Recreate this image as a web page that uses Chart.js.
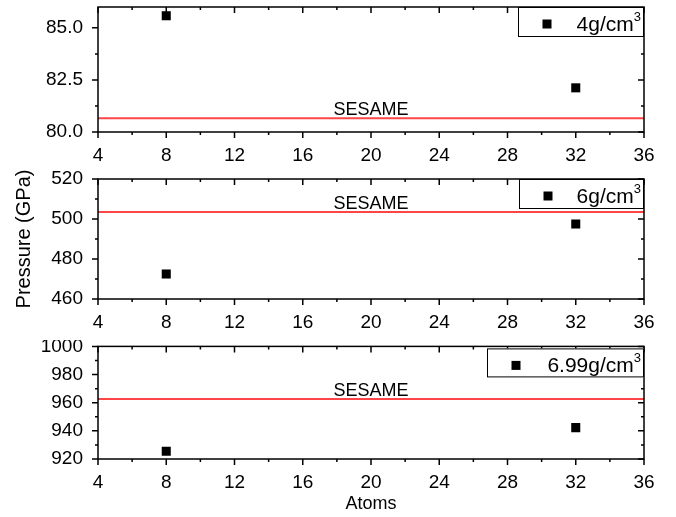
<!DOCTYPE html>
<html>
<head>
<meta charset="utf-8">
<script src="https://cdn.jsdelivr.net/npm/chart.js@4"></script>
<style>
  body { margin: 0; background: #fff; }
  canvas { position: absolute; left: 0; }
</style>
</head>
<body>
<canvas id="c1" width="676" height="170" style="top:0"></canvas>
<canvas id="c2" width="676" height="170" style="top:170px"></canvas>
<canvas id="c3" width="676" height="177" style="top:340px"></canvas>
<script>
// data
const atoms = [8, 32];
const pressure4 = [85.58, 82.12];
const pressure6 = [472.5, 497.5];
const pressure699 = [925.5, 942.3];
const sesame = [80.66, 503.5, 962.7];
const densityLabels = ['4g/cm', '6g/cm', '6.99g/cm'];

// axes
const xTicks = [4, 8, 12, 16, 20, 24, 28, 32, 36];
const yTicks1 = [80, 82.5, 85];
const yTicks2 = [460, 480, 500, 520];
const yTicks3 = [920, 940, 960, 980, 1000];
const yRange1 = [80, 86];
const yRange2 = [460, 520];
const yRange3 = [920, 1000];

const FONT = 'Liberation Sans, Arial, sans-serif';
const tickFont = { family: FONT, size: 19 };

function midpoints(arr) {
  const out = [];
  for (let i = 1; i < arr.length; i++) out.push((arr[i - 1] + arr[i]) / 2);
  return out;
}

// frame, mirrored ticks, SESAME label and boxed legend
const framePlugin = {
  id: 'frame',
  afterDatasetsDraw(chart, args, opts) {
    const { ctx, chartArea: a, scales: { x, y } } = chart;
    ctx.save();
    ctx.strokeStyle = '#000';
    ctx.lineWidth = 1.5;
    ctx.strokeRect(a.left, a.top, a.right - a.left, a.bottom - a.top);

    ctx.beginPath();
    const tickX = (v, len) => {
      const px = x.getPixelForValue(v);
      ctx.moveTo(px, a.bottom); ctx.lineTo(px, a.bottom + len);
      ctx.moveTo(px, a.top); ctx.lineTo(px, a.top + len);
    };
    const tickY = (v, len) => {
      const py = y.getPixelForValue(v);
      ctx.moveTo(a.left - len, py); ctx.lineTo(a.left, py);
      ctx.moveTo(a.right, py); ctx.lineTo(a.right - len, py);
    };
    xTicks.forEach(v => tickX(v, 6));
    midpoints(xTicks).forEach(v => tickX(v, 3));
    opts.yTicks.forEach(v => tickY(v, 6));
    midpoints(opts.yTicks).forEach(v => tickY(v, 3));
    ctx.stroke();

    // SESAME label above the red line
    const sy = y.getPixelForValue(opts.sesame);
    ctx.fillStyle = '#000';
    ctx.font = '18px ' + FONT;
    ctx.textAlign = 'center';
    ctx.textBaseline = 'alphabetic';
    ctx.fillText('SESAME', 371, sy - 3);

    // legend box
    const lb = opts.legend;
    const bx = a.right - lb.w;
    const by = a.top + lb.dy;
    ctx.fillStyle = '#fff';
    ctx.fillRect(bx, by, lb.w, lb.h);
    ctx.lineWidth = 1;
    ctx.strokeRect(bx + 0.5, by + 0.5, lb.w - 1, lb.h - 1);
    ctx.fillStyle = '#000';
    ctx.fillRect(bx + 29 - 4.5, by + 17 - 4.5, 9, 9);
    ctx.font = '13px ' + FONT;
    ctx.textAlign = 'left';
    const supW = ctx.measureText('3').width;
    const supX = a.right - 3 - supW;
    ctx.fillText('3', supX, by + 14);
    ctx.font = '21px ' + FONT;
    ctx.textAlign = 'right';
    ctx.fillText(lb.text, supX, by + 24);
    ctx.restore();
  }
};

function makePanel(id, p) {
  const ctx = document.getElementById(id).getContext('2d');
  return new Chart(ctx, {
    type: 'scatter',
    data: {
      datasets: [
        {
          label: p.label + '3',
          data: atoms.map((a, i) => ({ x: a, y: p.values[i] })),
          pointStyle: 'rect',
          pointRadius: 6.4,
          backgroundColor: '#000',
          borderColor: '#000',
          borderWidth: 0
        },
        {
          type: 'line',
          label: 'SESAME',
          data: [{ x: 4, y: p.sesame }, { x: 36, y: p.sesame }],
          borderColor: '#ff4545',
          borderWidth: 2,
          pointRadius: 0
        }
      ]
    },
    options: {
      responsive: false,
      animation: false,
      layout: { padding: { left: 8, right: 32, top: p.padTop, bottom: 0 } },
      plugins: {
        legend: { display: false },
        tooltip: { enabled: false },
        frame: { yTicks: p.yTicks, sesame: p.sesame, legend: p.legend }
      },
      scales: {
        x: {
          type: 'linear',
          min: 4,
          max: 36,
          grid: { display: false, drawTicks: false },
          border: { display: false },
          afterBuildTicks: s => { s.ticks = xTicks.map(v => ({ value: v })); },
          afterFit: s => {
            s.height = p.xHeight;
            s.paddingLeft = 0;
            s.paddingRight = 0;
          },
          ticks: { padding: 12, font: tickFont, color: '#000', maxRotation: 0, autoSkip: false },
          title: {
            display: !!p.xTitle,
            text: p.xTitle || '',
            color: '#000',
            font: { family: FONT, size: 18 },
            padding: { top: 0, bottom: 2 }
          }
        },
        y: {
          min: p.range[0],
          max: p.range[1],
          grid: { display: false, drawTicks: false },
          border: { display: false },
          afterBuildTicks: s => { s.ticks = p.yTicks.map(v => ({ value: v })); },
          afterFit: s => {
            // fixed width, and no extra room for the end labels
            s.width = 90;
            s.paddingTop = 0;
            s.paddingBottom = 0;
          },
          ticks: {
            padding: 15,
            font: tickFont,
            color: '#000',
            callback: v => p.fmt(v)
          },
          title: {
            display: !!p.yTitle,
            text: p.yTitle || '',
            color: '#000',
            font: { family: FONT, size: 20 },
            padding: { top: 4, bottom: 0 }
          }
        }
      }
    },
    plugins: [framePlugin]
  });
}

makePanel('c1', {
  label: densityLabels[0], values: pressure4, sesame: sesame[0],
  range: yRange1, yTicks: yTicks1, fmt: v => v.toFixed(1),
  padTop: 7, xHeight: 38,
  legend: { text: densityLabels[0], w: 126, h: 30, dy: 0 }
});

makePanel('c2', {
  label: densityLabels[1], values: pressure6, sesame: sesame[1],
  range: yRange2, yTicks: yTicks2, fmt: v => String(v),
  padTop: 9, xHeight: 41, yTitle: 'Pressure (GPa)',
  legend: { text: densityLabels[1], w: 125, h: 30, dy: 0 }
});

makePanel('c3', {
  label: densityLabels[2], values: pressure699, sesame: sesame[2],
  range: yRange3, yTicks: yTicks3, fmt: v => String(v),
  padTop: 1, xHeight: 58, xTitle: 'Atoms',
  legend: { text: densityLabels[2], w: 157, h: 29, dy: 2 }
});
</script>
</body>
</html>
